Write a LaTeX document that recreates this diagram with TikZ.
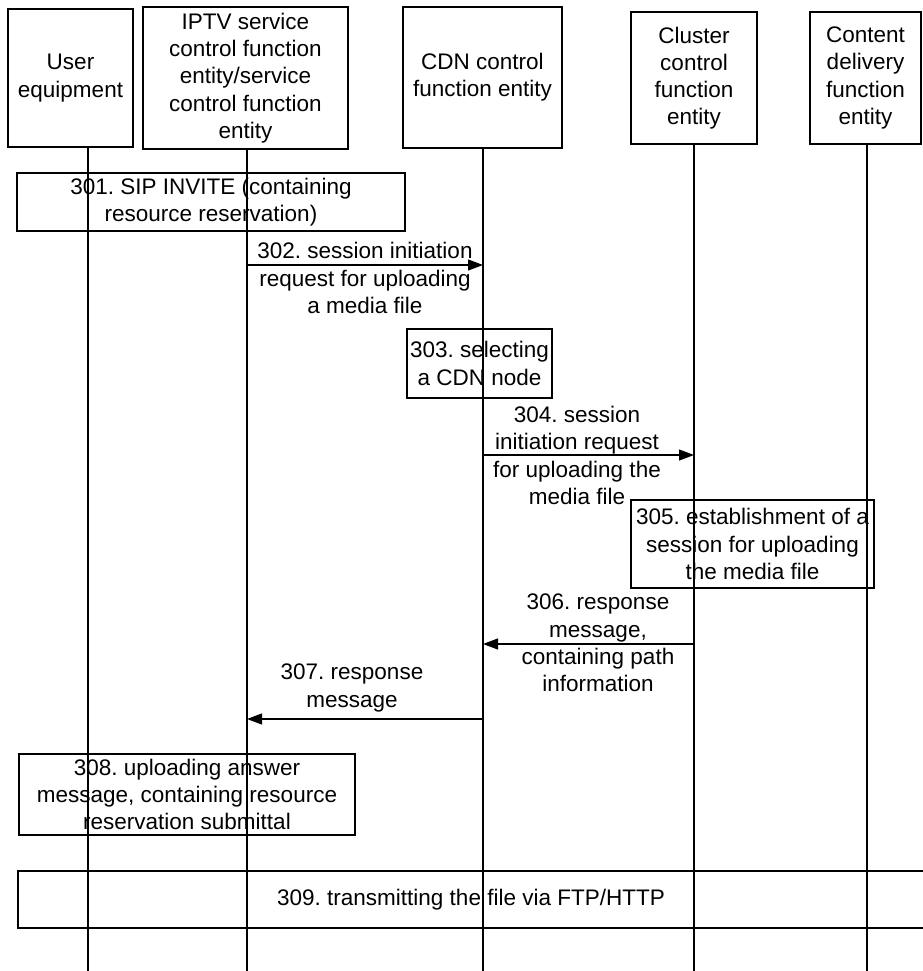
\documentclass[tikz,border=0pt]{standalone}
\usepackage{fontspec}
\setmainfont{Liberation Sans}
\usetikzlibrary{arrows.meta}
\frenchspacing
\begin{document}
\begin{tikzpicture}[x=1pt,y=-1pt,
  every node/.style={font=\fontsize{22.5}{27.2}\selectfont},
  entitybox/.style={draw, line width=1.3pt, inner sep=0pt, align=center},
  stepbox/.style={draw, line width=1.3pt, inner sep=0pt, align=center},
  msglabel/.style={align=center, inner sep=0pt},
  lifeline/.style={line width=1.1pt},
  lifelinebold/.style={line width=1.7pt},
  msgarrow/.style={line width=1.1pt, -{Triangle[length=15pt,width=11pt]}}]
\useasboundingbox (0,0) rectangle (922,971);

% entities
\node[entitybox, minimum width=125, minimum height=138] (ue) at (70.5,78) {User\\equipment};
\node[entitybox, minimum width=205, minimum height=142] (iptv) at (245.5,78) {IPTV service\\control function\\entity/service\\control function\\entity};
\node[entitybox, minimum width=159, minimum height=141] (cdn) at (482.5,77.5) {CDN control\\function entity};
\node[entitybox, minimum width=126, minimum height=132] (cluster) at (694,78) {Cluster\\control\\function\\entity};
\node[entitybox, minimum width=111, minimum height=132] (cdf) at (865.5,78) {Content\\delivery\\function\\entity};

% lifeline ends
\coordinate (ueB) at (88,971);
\coordinate (iptvB) at (247,971);
\coordinate (cdnB) at (483,971);
\coordinate (clB) at (694,971);
\coordinate (cdfB) at (867,971);

\draw[lifelinebold] (ue.south -| ueB) -- (ueB);
\draw[lifelinebold] (iptv.south -| iptvB) -- (iptvB);
\draw[lifeline] (cdn.south -| cdnB) -- (cdnB);
\draw[lifeline] (cluster.south -| clB) -- (clB);
\draw[lifeline] (cdf.south -| cdfB) -- (cdfB);

% 301
\node[stepbox, minimum width=388, minimum height=58] (s301) at (211,202) {301. SIP INVITE (containing\\resource reservation)};

% 302
\coordinate (y302) at (0,265);
\draw[msgarrow] (iptvB |- y302) -- (cdnB |- y302);
\node[msglabel] (m302) at (365,278) {302. session initiation\\request for uploading\\a media file};

% 303
\node[stepbox, minimum width=145, minimum height=69] (s303) at (479.5,363.5) {303. selecting\\a CDN node};

% 304
\coordinate (y304) at (0,455);
\draw[msgarrow] (cdnB |- y304) -- (clB |- y304);
\node[msglabel] (m304) at (577,455.5) {304. session\\initiation request\\for uploading the\\media file};

% 305
\node[stepbox, minimum width=243, minimum height=88] (s305) at (752.5,544) {305. establishment of a\\session for uploading\\the media file};

% 306
\coordinate (y306) at (0,644);
\draw[msgarrow] (clB |- y306) -- (cdnB |- y306);
\node[msglabel] (m306) at (598,643) {306. response\\message,\\containing path\\information};

% 307
\coordinate (y307) at (0,719);
\draw[msgarrow] (cdnB |- y307) -- (iptvB |- y307);
\node[msglabel] (m307) at (352,688) {307. response\\message};

% 308
\node[stepbox, minimum width=336, minimum height=81] (s308) at (187,794.5) {308. uploading answer\\message, containing resource\\reservation submittal};

% 309
\node[stepbox, minimum width=906, minimum height=57] (s309) at (471,899.5) {309. transmitting the file via FTP/HTTP};
\end{tikzpicture}
\end{document}
